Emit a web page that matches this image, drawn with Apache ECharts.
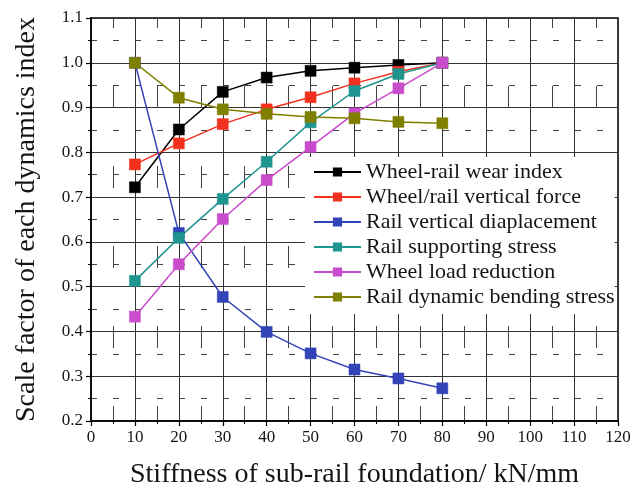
<!DOCTYPE html>
<html>
<head>
<meta charset="utf-8">
<script src="https://cdn.jsdelivr.net/npm/echarts@6/dist/echarts.min.js"></script>
<style>
  html, body { margin: 0; padding: 0; background: #fff; }
  #chart { width: 634px; height: 491px; }
</style>
</head>
<body>
<div id="chart"></div>
<script>
// Foundation stiffness (kN/mm)
const stiffness = [10, 20, 30, 40, 50, 60, 70, 80];

// Scale factor of each dynamics index
const wearIndex      = [0.722, 0.851, 0.935, 0.967, 0.982, 0.989, 0.995, 1.0];
const verticalForce  = [0.773, 0.820, 0.863, 0.896, 0.923, 0.954, 0.980, 1.0];
const railDisp       = [1.0, 0.620, 0.477, 0.399, 0.351, 0.315, 0.295, 0.273];
const supportStress  = [0.513, 0.609, 0.696, 0.779, 0.867, 0.937, 0.975, 1.0];
const loadReduction  = [0.433, 0.550, 0.651, 0.738, 0.812, 0.887, 0.943, 1.0];
const bendingStress  = [1.0, 0.922, 0.896, 0.886, 0.879, 0.876, 0.868, 0.865];

const seriesNames = [
  'Wheel-rail wear index',
  'Wheel/rail vertical force',
  'Rail vertical diaplacement',
  'Rail supporting stress',
  'Wheel load reduction',
  'Rail dynamic bending stress'
];
const seriesData = [wearIndex, verticalForce, railDisp, supportStress, loadReduction, bendingStress];
const seriesColors = ['#000000', '#f2301e', '#3344b8', '#1f9590', '#c84ccc', '#7f7f00'];

const FONT = '"Liberation Serif", "Times New Roman", serif';

const chart = echarts.init(document.getElementById('chart'), null, { renderer: 'canvas' });

chart.setOption({
  animation: false,
  backgroundColor: '#fff',
  grid: {
    left: 91, right: 16, top: 18, bottom: 70,
    outerBoundsMode: 'none',
    containLabel: false,
    show: true, borderColor: '#000', borderWidth: 1.5
  },
  legend: {
    orient: 'vertical',
    left: 305, top: 157,
    padding: [4, 0, 6, 8],
    backgroundColor: '#fff',
    itemWidth: 47, itemHeight: 9,
    itemGap: 3,
    textStyle: { fontFamily: FONT, fontSize: 22, color: '#151515', lineHeight: 20 },
    data: seriesNames
  },
  xAxis: {
    type: 'value',
    min: 0, max: 120, interval: 10,
    name: 'Stiffness of sub-rail foundation/ kN/mm',
    nameLocation: 'middle', nameGap: 40,
    nameTextStyle: { fontFamily: FONT, fontSize: 28, color: '#151515' },
    axisLine: { show: true, lineStyle: { color: '#000', width: 1.5 } },
    axisTick: { show: true, length: 5, lineStyle: { color: '#000', width: 1.2 } },
    minorTick: { show: true, splitNumber: 2, length: 3, lineStyle: { color: '#000' } },
    axisLabel: { fontFamily: FONT, fontSize: 17, color: '#151515', margin: 8 },
    splitLine: { show: true, lineStyle: { color: '#333', width: 1 } },
    minorSplitLine: { show: true, lineStyle: { color: '#444', width: 1, type: [22, 58], dashOffset: 12 } }
  },
  yAxis: {
    type: 'value',
    min: 0.2, max: 1.1, interval: 0.1,
    name: 'Scale factor of each dynamics index',
    nameLocation: 'middle', nameGap: 50,
    nameTextStyle: { fontFamily: FONT, fontSize: 28, color: '#151515' },
    axisLine: { show: true, lineStyle: { color: '#000', width: 1.5 } },
    axisTick: { show: true, length: 5, lineStyle: { color: '#000', width: 1.2 } },
    minorTick: { show: true, splitNumber: 2, length: 3, lineStyle: { color: '#000' } },
    axisLabel: {
      fontFamily: FONT, fontSize: 17, color: '#151515', margin: 8,
      formatter: v => v.toFixed(1)
    },
    splitLine: { show: true, lineStyle: { color: '#333', width: 1 } },
    minorSplitLine: { show: true, lineStyle: { color: '#444', width: 1, type: [6, 16] } }
  },
  series: seriesNames.map((name, i) => ({
    name: name,
    type: 'line',
    data: stiffness.map((x, j) => [x, seriesData[i][j]]),
    symbol: 'rect',
    symbolSize: 11,
    itemStyle: { color: seriesColors[i], borderColor: seriesColors[i], borderWidth: 0.5 },
    lineStyle: { color: seriesColors[i], width: 1.5 },
    z: 3
  }))
});
</script>
</body>
</html>
